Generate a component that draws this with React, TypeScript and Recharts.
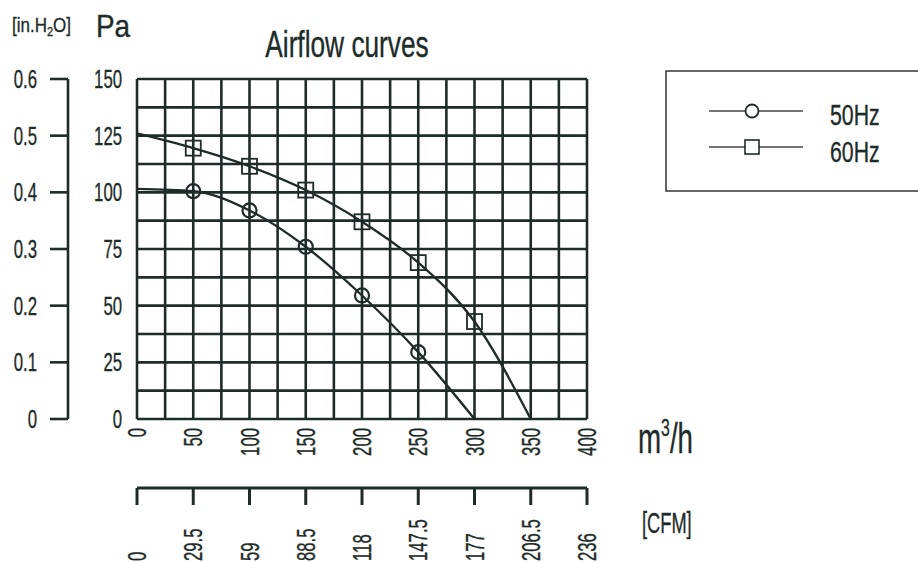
import { LineChart, Line, XAxis, YAxis, CartesianGrid } from 'recharts';

const INK = '#1e2c29';
const FONT = "'Liberation Sans', Arial, sans-serif";

// airflow [m3/h] and static pressure [Pa]
const flow50 = [0, 50, 100, 150, 200, 250, 300];
const pa50 = [101.5, 100.5, 92, 76, 54.5, 29.5, 0];
const flow60 = [0, 50, 100, 150, 200, 250, 300, 350];
const pa60 = [126, 119.5, 111.5, 101, 87, 69, 43, 0];
const seriesNames = ['50Hz', '60Hz'];

const flowTicks = [0, 25, 50, 75, 100, 125, 150, 175, 200, 225, 250, 275, 300, 325, 350, 375, 400];
const paTicks = [0, 12.5, 25, 37.5, 50, 62.5, 75, 87.5, 100, 112.5, 125, 137.5, 150];
const inH2oTicks = [0, 0.1, 0.2, 0.3, 0.4, 0.5, 0.6];
const cfmTicks = [0, 29.5, 59, 88.5, 118, 147.5, 177, 206.5, 236];

const data50 = flow50.map((f, i) => ({ flow: f, pa: pa50[i] }));
const data60 = flow60.map((f, i) => ({ flow: f, pa: pa60[i] }));
// carries the CFM scale so the secondary axis gets its ticks; draws nothing
const cfmData = cfmTicks.map((c) => ({ cfm: c, pa: null }));

const textStyle = { fontFamily: FONT, fill: INK, stroke: INK, strokeWidth: 0.35 };

function NText({ x, y, size, anchor = 'start', rotate = 0, sx = 0.67, children }: any) {
  return (
    <g transform={`translate(${x},${y}) rotate(${rotate}) scale(${sx},1)`}>
      <text x={0} y={0} fontSize={size} textAnchor={anchor} style={textStyle}>
        {children}
      </text>
    </g>
  );
}

const FlowTick = (props: any) => {
  const v = props.payload.value;
  if (v % 50 !== 0) return null;
  return <NText x={props.x + 9} y={428} size={25} anchor="end" rotate={-90}>{v}</NText>;
};

const CfmTick = (props: any) => (
  <NText x={props.x + 9} y={561} size={25} anchor="start" rotate={-90}>{props.payload.value}</NText>
);

const PaTick = (props: any) => {
  const v = props.payload.value;
  if (v % 25 !== 0) return null;
  return <NText x={122} y={props.y + 9} size={25} anchor="end">{v}</NText>;
};

const InTick = (props: any) => (
  <NText x={37} y={props.y + 9} size={25} anchor="end">{props.payload.value}</NText>
);

const makeDot = (kind: 'circle' | 'square', last: number) => (props: any) => {
  const { cx, cy, index } = props;
  if (index === 0 || index === last) return <g key={index} />;
  if (kind === 'circle')
    return <circle key={index} cx={cx} cy={cy} r={7} fill="none" stroke={INK} strokeWidth={2.2} />;
  return <rect key={index} x={cx - 7.5} y={cy - 7.5} width={15} height={15} fill="none" stroke={INK} strokeWidth={1.8} />;
};

export default function App() {
  return (
    <div style={{ position: 'absolute', left: 0, top: 0, width: 918, height: 562, background: '#fff' }}>
      <LineChart width={918} height={562} margin={{ top: 79, right: 331, bottom: 0, left: 8 }}>
        <CartesianGrid xAxisId="a_flow" yAxisId="a_pa" stroke={INK} strokeWidth={2.6} strokeOpacity={1} />
        <XAxis xAxisId="a_flow" dataKey="flow" type="number" domain={[0, 400]} ticks={flowTicks} interval={0}
          axisLine={false} tickLine={false} height={69} tick={<FlowTick />} allowDataOverflow />
        <XAxis xAxisId="b_cfm" dataKey="cfm" type="number" domain={[0, 236]} ticks={cfmTicks} interval={0} height={74}
          axisLine={{ stroke: INK, strokeWidth: 3 }} tickLine={{ stroke: INK, strokeWidth: 3 }} tickSize={17}
          tick={<CfmTick />} allowDataOverflow />
        <YAxis yAxisId="a_pa" type="number" domain={[0, 150]} ticks={paTicks} interval={0} width={69}
          axisLine={false} tickLine={false} tick={<PaTick />} allowDataOverflow />
        <YAxis yAxisId="b_in" type="number" domain={[0, 0.6]} ticks={inH2oTicks} interval={0} width={60}
          axisLine={{ stroke: INK, strokeWidth: 2.6 }} tickLine={{ stroke: INK, strokeWidth: 2.6 }} tickSize={18}
          tick={<InTick />} allowDataOverflow />
        <Line xAxisId="b_cfm" yAxisId="a_pa" data={cfmData} dataKey="pa" stroke="none" dot={false}
          activeDot={false} legendType="none" isAnimationActive={false} />
        <Line xAxisId="a_flow" yAxisId="a_pa" data={data50} dataKey="pa" name={seriesNames[0]} type="monotone"
          stroke={INK} strokeWidth={2.3} dot={makeDot('circle', data50.length - 1)} activeDot={false}
          isAnimationActive={false} />
        <Line xAxisId="a_flow" yAxisId="a_pa" data={data60} dataKey="pa" name={seriesNames[1]} type="monotone"
          stroke={INK} strokeWidth={2.3} dot={makeDot('square', data60.length - 1)} activeDot={false}
          isAnimationActive={false} />
      </LineChart>
      <svg width={918} height={562} style={{ position: 'absolute', left: 0, top: 0, pointerEvents: 'none' }}>
        <g transform="translate(12,32) scale(0.85,1)">
          <text fontSize={20} style={textStyle}>
            [in.H<tspan fontSize={13} dy={4}>2</tspan><tspan dy={-4}>O]</tspan>
          </text>
        </g>
        <NText x={96} y={37} size={31} sx={0.9}>Pa</NText>
        <NText x={347} y={57} size={36} anchor="middle" sx={0.73}>Airflow curves</NText>
        <g transform="translate(638,453) scale(0.66,1)">
          <text fontSize={42} style={textStyle}>
            m<tspan fontSize={24} dy={-17}>3</tspan><tspan dy={17}>/h</tspan>
          </text>
        </g>
        <NText x={642} y={533} size={29} sx={0.63}>[CFM]</NText>
        <rect x={666} y={71} width={262} height={120} fill="none" stroke="#333" strokeWidth={1.5} />
        <line x1={709} y1={111} x2={803} y2={111} stroke="#444" strokeWidth={1.4} />
        <circle cx={752} cy={111} r={6.5} fill="#fff" stroke={INK} strokeWidth={1.8} />
        <line x1={709} y1={147} x2={803} y2={147} stroke="#444" strokeWidth={1.4} />
        <rect x={745} y={140} width={14} height={14} fill="#fff" stroke={INK} strokeWidth={1.6} />
        <NText x={830} y={125} size={30} sx={0.71}>{seriesNames[0]}</NText>
        <NText x={830} y={162} size={30} sx={0.71}>{seriesNames[1]}</NText>
      </svg>
    </div>
  );
}
